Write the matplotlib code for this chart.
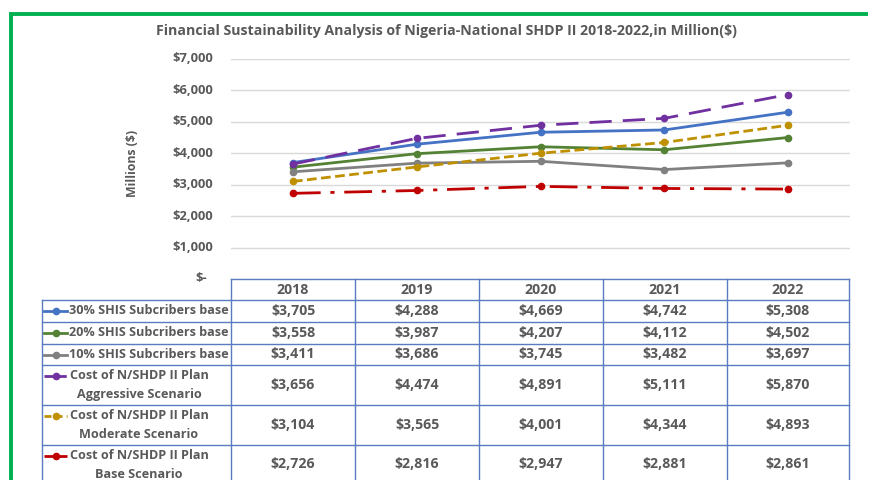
import matplotlib.pyplot as plt
import numpy as np

# chart data, in million $
years = ['2018', '2019', '2020', '2021', '2022']
series_names = [
    ['30% SHIS Subcribers base'],
    ['20% SHIS Subcribers base'],
    ['10% SHIS Subcribers base'],
    ['Cost of N/SHDP II Plan', 'Aggressive Scenario'],
    ['Cost of N/SHDP II Plan', 'Moderate Scenario'],
    ['Cost of N/SHDP II Plan', 'Base Scenario'],
]
shis_30 = [3705, 4288, 4669, 4742, 5308]
shis_20 = [3558, 3987, 4207, 4112, 4502]
shis_10 = [3411, 3686, 3745, 3482, 3697]
cost_aggressive = [3656, 4474, 4891, 5111, 5870]
cost_moderate = [3104, 3565, 4001, 4344, 4893]
cost_base = [2726, 2816, 2947, 2881, 2861]
y_ticks = [0, 1000, 2000, 3000, 4000, 5000, 6000, 7000]

series_values = [shis_30, shis_20, shis_10, cost_aggressive, cost_moderate, cost_base]
colors = ['#4472C4', '#548235', '#808080', '#7030A0', '#BF9000', '#C00000']
styles = ['-', '-', '-', (0, (8, 4)), (0, (3.5, 1.6)), (0, (10, 3.5, 1.5, 3.5))]

plt.rcParams['font.family'] = ['Open Sans', 'DejaVu Sans']
plt.rcParams['font.weight'] = 'bold'
TXT = '#595959'
GRID = '#D9D9D9'
TBL = '#5B7BC0'
FS = 9.3       # axis tick labels
FS_VAL = 10.2  # table numbers and years
FS_LAB = 9.1   # series names in the table

W, H = 869, 480
fig = plt.figure(figsize=(W / 100, H / 100), dpi=100)

# pixel-space overlay for the frame and the data table
fr = fig.add_axes([0, 0, 1, 1])
fr.set_xlim(0, W)
fr.set_ylim(H, 0)
fr.axis('off')

# green outer frame
fr.plot([10.5, 10.5, 868], [H + 5, 13.5, 13.5], color='#00B050', lw=2.8,
        solid_capstyle='butt', solid_joinstyle='miter')

fr.text(446, 31, 'Financial Sustainability Analysis of Nigeria-National SHDP II 2018-2022,in Million($)',
        ha='center', va='center', fontsize=10.2, color=TXT, fontweight='bold')

# plot area
px_left, px_right, px_top, px_bottom = 231, 850, 59, 279
ax = fig.add_axes([px_left / W, 1 - px_bottom / H,
                   (px_right - px_left) / W, (px_bottom - px_top) / H])
ax.set_xlim(-0.5, len(years) - 0.5)
ax.set_ylim(0, 7000)
ax.set_yticks(y_ticks)
ax.set_yticklabels([])
ax.tick_params(length=0)
ax.set_xticks([])
ax.grid(axis='y', color=GRID, lw=1)
ax.set_axisbelow(True)
for s in ax.spines.values():
    s.set_visible(False)
ax.patch.set_alpha(0)

x = np.arange(len(years))
for vals, c, ls in zip(series_values, colors, styles):
    ax.plot(x, vals, color=c, ls=ls, lw=2, marker='o', ms=4.5,
            markerfacecolor=c, markeredgecolor=c, zorder=3)

# y tick labels, accounting style
for v in y_ticks:
    ypix = px_bottom - (px_bottom - px_top) * v / 7000
    lab = '$-' if v == 0 else '${:,}'.format(v)
    xr = 207 if v == 0 else 213
    fr.text(xr, ypix, lab, ha='right', va='center', fontsize=FS, color=TXT, fontweight='bold')

fr.text(133, 163, 'Millions ($)', rotation=90, ha='center', va='center',
        fontsize=8.8, color=TXT, fontweight='bold')

# data table
col_edges = [231, 355, 479, 603, 727, 849]
row_edges = [300, 322, 344, 365, 405, 445, 486]
tbl_left = 42

fr.plot([231, 849], [279, 279], color=TBL, lw=1)
for xe in col_edges:
    fr.plot([xe, xe], [279, row_edges[-1]], color=TBL, lw=1)
fr.plot([tbl_left, tbl_left], [row_edges[0], row_edges[-1]], color=TBL, lw=1)
for ye in row_edges:
    fr.plot([tbl_left, 849], [ye, ye], color=TBL, lw=1)

for i, yr in enumerate(years):
    xc = (col_edges[i] + col_edges[i + 1]) / 2
    fr.text(xc, 290, yr, ha='center', va='center', fontsize=FS_VAL, color=TXT, fontweight='bold')

for r, (names, vals, c, ls) in enumerate(zip(series_names, series_values, colors, styles)):
    y0, y1 = row_edges[r], row_edges[r + 1]
    yc = (y0 + y1) / 2 if r < 5 else 464
    for i, v in enumerate(vals):
        xc = (col_edges[i] + col_edges[i + 1]) / 2
        fr.text(xc, yc, '${:,}'.format(v), ha='center', va='center',
                fontsize=FS_VAL, color=TXT, fontweight='bold')
    if len(names) == 1:
        key_y = yc
        fr.text(69, yc, names[0], ha='left', va='center', fontsize=FS_LAB, color=TXT, fontweight='bold')
    else:
        key_y = y0 + 10.5
        fr.text(139, y0 + 10.5, names[0], ha='center', va='center', fontsize=FS_LAB, color=TXT, fontweight='bold')
        fr.text(139, y0 + 29.5, names[1], ha='center', va='center', fontsize=FS_LAB, color=TXT, fontweight='bold')
    fr.plot([44, 67], [key_y, key_y], color=c, ls=ls if r != 4 else (0, (2.5, 1.5)), lw=2)
    fr.plot([55.5], [key_y], marker='o', ms=4.5, color=c)

fig.savefig('out.png', dpi=100)
